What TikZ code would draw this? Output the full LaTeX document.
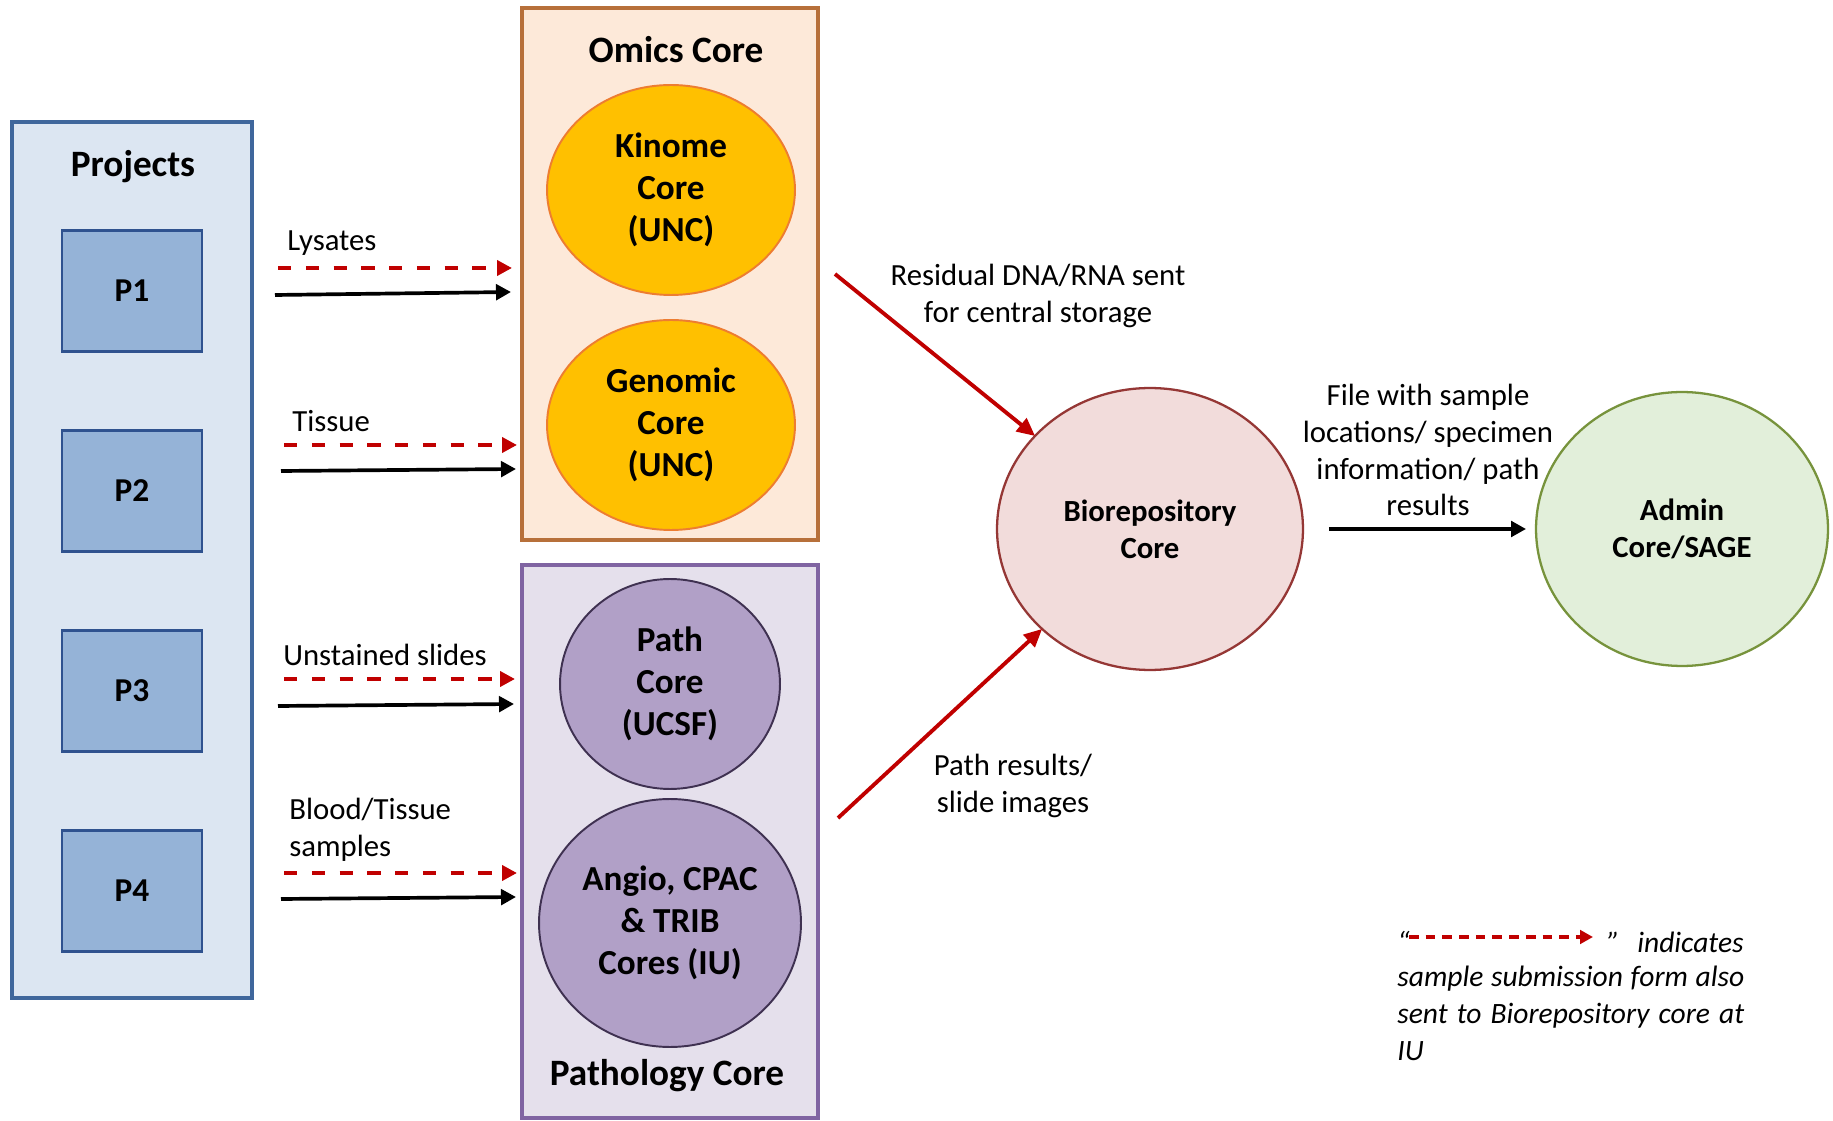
\documentclass[tikz,border=0pt]{standalone}
\usepackage{fontspec}
\setmainfont{Carlito}
\usetikzlibrary{arrows.meta,shapes.geometric}
\definecolor{projfill}{HTML}{DCE6F2}
\definecolor{projdraw}{HTML}{3F679C}
\definecolor{pfill}{HTML}{95B3D7}
\definecolor{pdraw}{HTML}{2F528F}
\definecolor{omfill}{HTML}{FDE9D9}
\definecolor{omdraw}{HTML}{B7703A}
\definecolor{yel}{HTML}{FFC000}
\definecolor{yeldraw}{HTML}{ED7D31}
\definecolor{pathfill}{HTML}{E5E0EC}
\definecolor{pathdraw}{HTML}{8064A2}
\definecolor{purp}{HTML}{B1A0C7}
\definecolor{purpdraw}{HTML}{3F3151}
\definecolor{biofill}{HTML}{F2DCDB}
\definecolor{biodraw}{HTML}{953735}
\definecolor{admfill}{HTML}{E2EFDA}
\definecolor{admdraw}{HTML}{77933C}
\definecolor{darkred}{HTML}{C00000}
\tikzset{
  bigbox/.style={draw, rectangle, line width=2.4pt, inner sep=0pt},
  pbox/.style={draw=pdraw, fill=pfill, line width=1.4pt, minimum width=2.8cm, minimum height=2.42cm, font=\bfseries\fontsize{19}{23}\selectfont},
  core/.style={ellipse, inner sep=0pt, outer sep=0pt, align=center, font=\bfseries\fontsize{20}{23.8}\selectfont, line width=1.1pt},
  bigcore/.style={ellipse, inner sep=0pt, outer sep=0pt, align=center, font=\bfseries\fontsize{17.5}{21}\selectfont, line width=1.3pt},
  title/.style={font=\bfseries\fontsize{21.2}{24}\selectfont},
  lbl/.style={font=\fontsize{17.5}{21}\selectfont, align=center, inner sep=0pt},
  legfont/.style={font=\itshape\fontsize{16.8}{21}\selectfont},
  blk/.style={-{Triangle[length=0.3cm,width=0.31cm]}, line width=2.1pt, black},
  sendarrow/.style={-{Triangle[length=0.3cm,width=0.3cm]}, line width=2.2pt, darkred, dash pattern=on 7.6pt off 8.2pt},
  redarrow/.style={-{Triangle[length=0.36cm,width=0.33cm]}, line width=2.2pt, darkred},
}
\begin{document}
\begin{tikzpicture}[x=0.02cm,y=-0.02cm]
\fill[white] (0,0) rectangle (1833,1121);
\path[use as bounding box] (0,0) rectangle (1833,1121);

% Projects
\node[bigbox, draw=projdraw, fill=projfill, minimum width=4.8cm, minimum height=17.52cm] (proj) at (132,560) {};
\node[title] (projt) at (133,167) {Projects};
\node[pbox] (p1) at (132,291) {P1};
\node[pbox] (p2) at (132,491) {P2};
\node[pbox] (p3) at (132,691) {P3};
\node[pbox] (p4) at (132,891) {P4};

% Omics core
\node[bigbox, draw=omdraw, fill=omfill, minimum width=5.92cm, minimum height=10.64cm] (omics) at (670,274) {};
\node[title] (omicst) at (676,50) {Omics Core};
\node[core, draw=yeldraw, fill=yel, minimum width=4.96cm, minimum height=4.2cm] (kin) at (671,190) {Kinome\\Core\\(UNC)};
\node[core, draw=yeldraw, fill=yel, minimum width=4.96cm, minimum height=4.2cm] (gen) at (671,425) {Genomic\\Core\\(UNC)};

% Pathology core
\node[bigbox, draw=pathdraw, fill=pathfill, minimum width=5.92cm, minimum height=11.06cm] (path) at (670,841.5) {};
\node[core, draw=purpdraw, fill=purp, minimum width=4.4cm, minimum height=4.2cm] (pc) at (670,684) {Path\\Core\\(UCSF)};
\node[core, draw=purpdraw, fill=purp, minimum width=5.24cm, minimum height=4.96cm] (ang) at (670,923) {Angio, CPAC\\\& TRIB\\Cores (IU)};
\node[title] (patht) at (667,1076) {Pathology Core};

% Biorepository and Admin
\node[bigcore, draw=biodraw, fill=biofill, minimum width=6.12cm, minimum height=5.64cm] (bio) at (1150,529) {Biorepository\\Core};
\node[bigcore, draw=admdraw, fill=admfill, minimum width=5.84cm, minimum height=5.48cm] (adm) at (1682,529) {Admin\\Core/SAGE};

% left arrows
\coordinate (s1r) at (278,268); \coordinate (e1r) at (512,268);
\coordinate (s1b) at (275,295); \coordinate (e1b) at (511,292);
\coordinate (s2r) at (284,445); \coordinate (e2r) at (517,445);
\coordinate (s2b) at (281,471); \coordinate (e2b) at (516,469);
\coordinate (s3r) at (284,679); \coordinate (e3r) at (515,679);
\coordinate (s3b) at (278,706); \coordinate (e3b) at (514,704);
\coordinate (s4r) at (284,873); \coordinate (e4r) at (517,873);
\coordinate (s4b) at (281,899); \coordinate (e4b) at (516,897);
\draw[sendarrow] (s1r) -- (e1r);
\draw[blk] (s1b) -- (e1b);
\draw[sendarrow] (s2r) -- (e2r);
\draw[blk] (s2b) -- (e2b);
\draw[sendarrow] (s3r) -- (e3r);
\draw[blk] (s3b) -- (e3b);
\draw[sendarrow] (s4r) -- (e4r);
\draw[blk] (s4b) -- (e4b);

\node[lbl, anchor=west] (l1) at (287,243) {Lysates};
\node[lbl, anchor=west] (l2) at (292,421) {Tissue};
\node[lbl, anchor=west] (l3) at (283,655) {Unstained slides};
\node[lbl, anchor=west, align=left] (l4) at (289,830) {Blood/Tissue\\samples};

% red arrows to biorepository
\coordinate (d1) at (835,274);
\coordinate (d2) at (838,818);
\draw[redarrow] (d1) -- (bio);
\draw[redarrow] (d2) -- (bio);
\node[lbl] (rl1) at (1038,296) {Residual DNA/RNA sent\\for central storage};
\node[lbl] (rl2) at (1013,786) {Path results/\\slide images};

% to admin
\draw[blk, shorten <=0.52cm, shorten >=0.2cm] (bio) -- (adm);
\node[lbl] (fl) at (1428,450) {File with sample\\locations/ specimen\\information/ path\\results};

% legend
\node[lbl, legfont, anchor=base west] (q1) at (1397,952) {“};
\node[lbl, legfont, anchor=base west] (q2) at (1607,952) {”};
\node[lbl, legfont, anchor=base east] (ind) at (1744,952) {indicates};
\coordinate (lg1) at (1409,937);
\coordinate (lg2) at (1593,937);
\draw[sendarrow, line width=2pt, dash pattern=on 5.5pt off 4pt, -{Triangle[length=0.26cm,width=0.27cm]}] (lg1) -- (lg2);
\node[legfont, anchor=north west, inner sep=0pt, align=left] (leg) at (1397,966)
  {\makebox[6.94cm][s]{sample submission form also}\\
   \makebox[6.94cm][s]{sent to Biorepository core at}\\
   IU};
\end{tikzpicture}
\end{document}
